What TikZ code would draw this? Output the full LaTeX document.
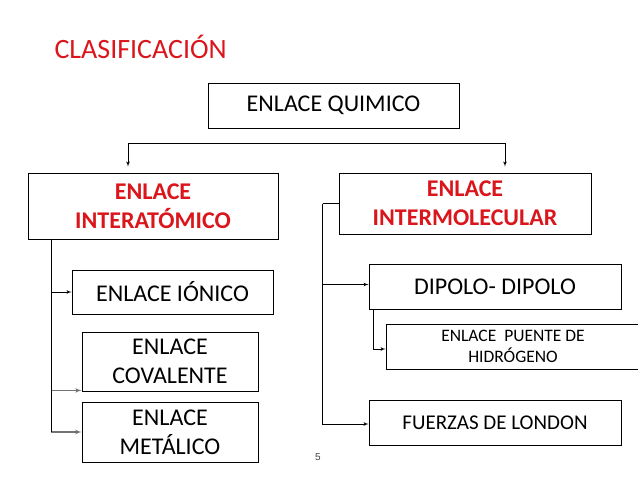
\documentclass[tikz,border=0pt]{standalone}
\usepackage{fontspec}
\setmainfont{Carlito}
\newfontfamily\pagefont{Liberation Sans}
\usetikzlibrary{arrows, positioning, calc}
\definecolor{titlered}{RGB}{218,22,28}

\begin{document}
\begin{tikzpicture}[
    x=1pt, y=-1pt,
    block/.style={rectangle, draw, line width=0.9pt, inner sep=2pt, align=center, font=\fontsize{24}{28.8}\selectfont},
    redblock/.style={block, text=titlered, font=\fontsize{24}{28.8}\selectfont\bfseries},
    line/.style={draw, -latex', line width=0.7pt},
    branch/.style={line, draw=black!55, line width=1.1pt}
]
\useasboundingbox (0,0) rectangle (638,479);

\node [anchor=base west, text=titlered, font=\fontsize{28}{33}\selectfont] (title) at (51,58) {CLASIFICACIÓN};

\node [block, minimum width=251pt, minimum height=45pt] (quimico) at (333.5,105.5) {ENLACE QUIMICO};
\node [redblock, minimum width=250pt, minimum height=66pt] (inter) at (153,206) {ENLACE\\INTERATÓMICO};
\node [redblock, minimum width=252pt, minimum height=61pt] (molec) at (465,203.5) {ENLACE\\INTERMOLECULAR};

\node [block, minimum width=201pt, minimum height=44pt] (ionico) at (172.5,292) {ENLACE IÓNICO};
\node [block, minimum width=176pt, minimum height=59pt] (coval) at (170,361.5) {ENLACE\\COVALENTE};
\node [block, minimum width=176pt, minimum height=60pt] (metal) at (170,432) {ENLACE\\METÁLICO};

\node [block, minimum width=252pt, minimum height=45pt] (dipolo) at (495,286.5) {DIPOLO- DIPOLO};
\node [block, minimum width=254pt, minimum height=45pt, font=\fontsize{17.5}{21.5}\selectfont] (puente) at (513,346.5) {ENLACE~ PUENTE DE\\HIDRÓGENO};
\node [block, minimum width=252pt, minimum height=45pt, font=\fontsize{21}{25}\selectfont] (london) at (495,422.5) {FUERZAS DE LONDON};

\node [font=\pagefont\fontsize{10}{12}\selectfont, text=black!75] (pagenum) at (318,457) {5};

% split below the top box
\coordinate (bar west) at (128,143);
\coordinate (bar east) at (505,143);
\path [line, shorten >=6pt] (bar west) -- (bar west |- inter.north);
\path [line, shorten >=6pt] (bar west) -- (bar east) -- (bar east |- molec.north);

% interatomic branch
\coordinate (spine) at ([xshift=24pt]inter.south west);
\path [line] (spine) |- (ionico.west);
\path [branch] (spine) |- ([yshift=1pt]coval.south west);
\path [branch] (spine) |- (metal.west);
\draw [line width=0.7pt] (spine) -- (spine |- metal.west);

% intermolecular branch
\coordinate (rspine) at ([xshift=-16pt]molec.west);
\draw [line width=0.7pt] (molec.west) -- (rspine);
\path [line] (rspine) |- ([yshift=2pt]dipolo.west);
\path [line] (rspine) |- ([yshift=-1.5pt]london.west);
\path [line] ([xshift=5pt]dipolo.south west) |- ([yshift=-2.5pt]puente.west);

\end{tikzpicture}
\end{document}
